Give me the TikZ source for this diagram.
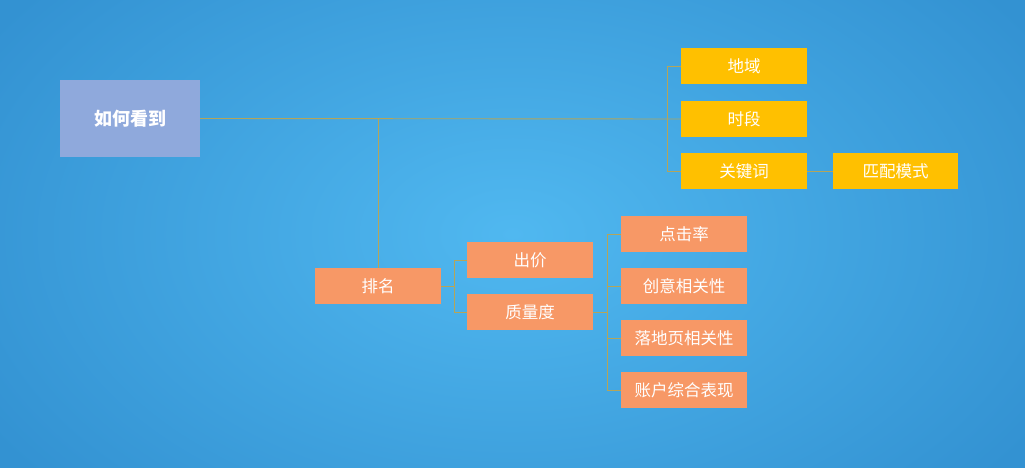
\documentclass[tikz,border=0pt]{standalone}
\usepackage{fontspec}
\setmainfont{Noto Sans CJK SC}
\begin{document}
\begin{tikzpicture}[x=1pt,y=-1pt,
  box/.style={minimum width=126pt,minimum height=36pt,inner sep=0pt,text=white,font=\fontsize{16.5}{18}\selectfont},
  ybox/.style={box,fill=yel},
  obox/.style={box,fill=ora},
  ln/.style={draw=lnc,line width=0.9pt}]
\definecolor{yel}{HTML}{FFC000}
\definecolor{ora}{HTML}{F79866}
\definecolor{lnc}{HTML}{B4A55A}
\definecolor{bgin}{HTML}{50B8F0}
\definecolor{bgout}{HTML}{3392D2}
\definecolor{hd}{HTML}{8FA9DC}
\path[use as bounding box] (0,0) rectangle (1025,468);
\shade[inner color=bgin,outer color=bgout] (-100,-150) rectangle (1125,618);
\node[box,fill=hd,minimum width=140pt,minimum height=77pt,font=\fontsize{18}{20}\selectfont\bfseries] (root) at (130,118.5) {如何看到};
\node[ybox] (dy) at (744,66) {地域};
\node[ybox] (sd) at (744,119) {时段};
\node[ybox] (gjc) at (744,171) {关键词};
\node[ybox,minimum width=125pt] (pp) at (895.5,171) {匹配模式};
\node[obox] (pm) at (378,286) {排名};
\node[obox] (cj) at (530,260) {出价};
\node[obox] (zl) at (530,312) {质量度};
\node[obox] (a1) at (684,234) {点击率};
\node[obox] (a2) at (684,286) {创意相关性};
\node[obox] (a3) at (684,338) {落地页相关性};
\node[obox] (a4) at (684,390) {账户综合表现};
\coordinate (j2) at (378,119);
\draw[ln] (root.east) -- (sd.west);
\draw[ln] (dy.west) -- ++(-13,0) |- (gjc.west);
\draw[ln] (j2) -- (pm.north);
\draw[ln] (gjc.east) -- (pp.west);
\draw[ln] (pm.east) -- ++(14,0);
\draw[ln] (cj.west) -- ++(-12,0) |- (zl.west);
\draw[ln] (zl.east) -- ++(15,0);
\draw[ln] (a1.west) -- ++(-13,0) |- (a4.west);
\draw[ln] (a2.west) -- ++(-13,0);
\draw[ln] (a3.west) -- ++(-13,0);
\end{tikzpicture}
\end{document}
